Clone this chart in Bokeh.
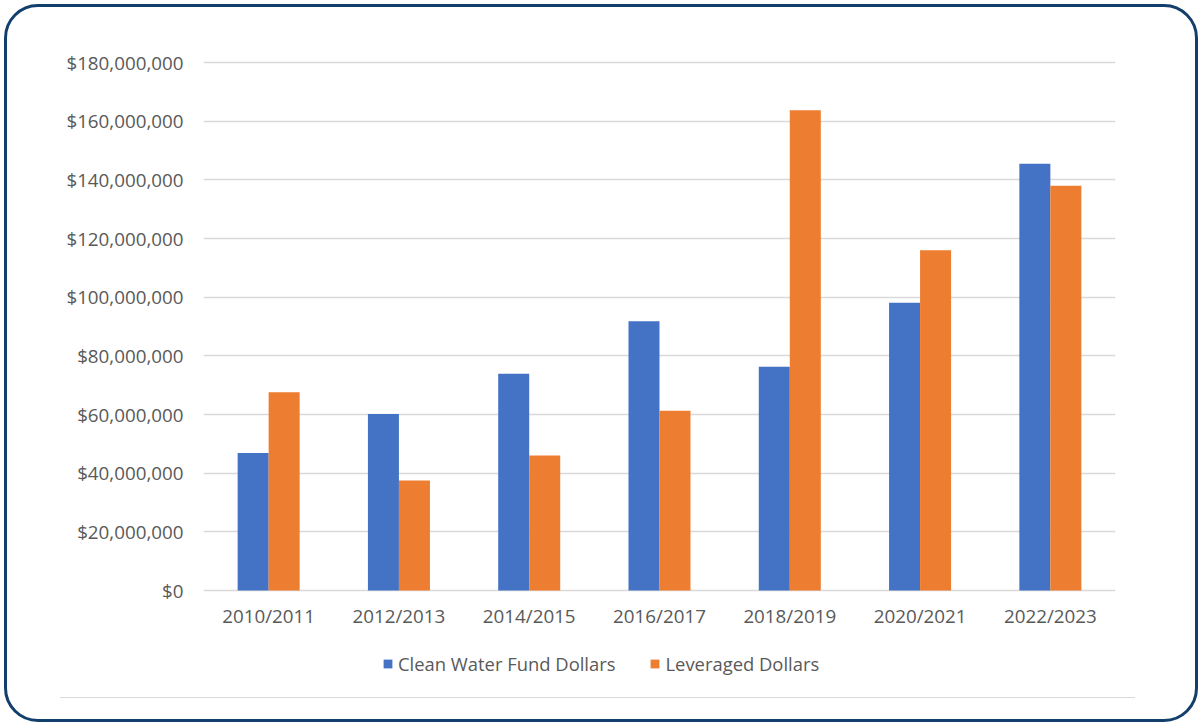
from bokeh.plotting import figure
from bokeh.models import (FactorRange, Range1d, NumeralTickFormatter, Legend, LegendItem,
                          ColumnDataSource, FixedTicker, InlineStyleSheet)
from bokeh.transform import dodge
from bokeh.embed import file_html
from bokeh.resources import INLINE

years = ["2010/2011", "2012/2013", "2014/2015", "2016/2017", "2018/2019", "2020/2021", "2022/2023"]
clean_water = [46.9e6, 60.2e6, 73.9e6, 91.8e6, 76.3e6, 98.1e6, 145.5e6]
leveraged = [67.6e6, 37.5e6, 46.0e6, 61.3e6, 163.7e6, 116.0e6, 138.0e6]
y_ticks = [0, 20e6, 40e6, 60e6, 80e6, 100e6, 120e6, 140e6, 160e6, 180e6]
y_max = 180e6

FONT = "Open Sans"
TXT = "#595959"
BLUE = "#4472C4"
ORANGE = "#ED7D31"
FS = "18.8px"
FS_LEG = "18.4px"

W, H = 1201, 725
FRAME_L, FRAME_R, FRAME_T, FRAME_B = 203, 1115, 56, 720
TOP_PX = 62    # pixel row of the top value (y_max)
ZERO_PX = 590  # pixel row of the value axis zero line
px_per_unit = (ZERO_PX - TOP_PX) / y_max
y_start = -(FRAME_B - ZERO_PX) / px_per_unit
y_end = y_max + (TOP_PX - FRAME_T) / px_per_unit

p = figure(width=W, height=H, output_backend="svg", toolbar_location=None,
           x_range=FactorRange(*years, range_padding=0), y_range=Range1d(y_start, y_end),
           min_border_left=FRAME_L, min_border_right=W - FRAME_R,
           min_border_top=FRAME_T, min_border_bottom=H - FRAME_B)
p.outline_line_color = None
p.background_fill_color = "white"
p.border_fill_color = "white"

src = ColumnDataSource(dict(years=years, cw=clean_water, lv=leveraged))
bw = 0.238
r1 = p.vbar(x=dodge("years", -bw / 2, range=p.x_range), top="cw", bottom=0, width=bw, source=src,
            fill_color=BLUE, line_color=None)
r2 = p.vbar(x=dodge("years", bw / 2, range=p.x_range), top="lv", bottom=0, width=bw, source=src,
            fill_color=ORANGE, line_color=None)

p.xgrid.grid_line_color = None
p.ygrid.grid_line_color = "#D9D9D9"
p.ygrid.grid_line_width = 1.3
p.yaxis.ticker = FixedTicker(ticks=y_ticks)
p.ygrid.ticker = FixedTicker(ticks=y_ticks)
p.yaxis.formatter = NumeralTickFormatter(format="$0,0")
p.xaxis.fixed_location = 0

for ax in (p.xaxis[0], p.yaxis[0]):
    ax.axis_line_color = None
    ax.major_tick_line_color = None
    ax.minor_tick_line_color = None
    ax.major_tick_out = 0
    ax.major_tick_in = 0
    ax.major_label_text_font = FONT
    ax.major_label_text_font_size = FS
    ax.major_label_text_color = TXT
p.yaxis.major_label_standoff = 20
p.xaxis.major_label_standoff = 12

legend = Legend(items=[LegendItem(label="Clean Water Fund Dollars", renderers=[r1]),
                       LegendItem(label="Leveraged Dollars", renderers=[r2])],
                location=(179, 44), orientation="horizontal",
                glyph_width=11, glyph_height=11, label_standoff=5, spacing=34,
                padding=0, margin=0, border_line_color=None, background_fill_alpha=0,
                label_text_font=FONT, label_text_font_size=FS_LEG, label_text_color=TXT)
p.add_layout(legend, "center")

# rounded outer frame and bottom separator line (page decoration)
p.stylesheets = [InlineStyleSheet(css="""
:host { position: relative; }
:host::after { content: ""; position: absolute; left: 4px; top: 4px; width: 1194px; height: 718px;
  box-sizing: border-box; border: 3px solid #123F6C; border-radius: 34px; pointer-events: none; z-index: 100; }
:host::before { content: ""; position: absolute; left: 60px; top: 696.5px; width: 1075px; height: 1.3px;
  background: #D9D9D9; pointer-events: none; z-index: 100; }
""")]

open("out.html", "w").write(file_html(p, INLINE))
